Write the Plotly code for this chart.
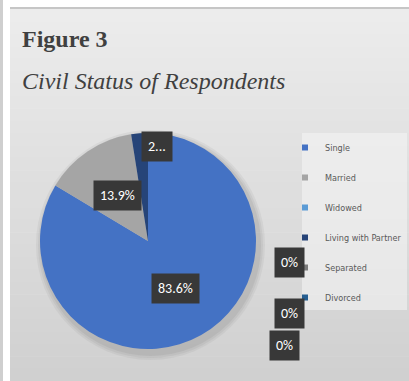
import math
import plotly.graph_objects as go

# ---- data ----
categories = ["Single", "Married", "Widowed", "Living with Partner", "Separated", "Divorced"]
percentages = [83.6, 13.9, 0.0, 2.5, 0.0, 0.0]
colors = ["#4472C4", "#A5A5A5", "#5B9BD5", "#264478", "#7C7C7C", "#255E91"]
title_line1 = "Figure 3"
title_line2 = "Civil Status of Respondents"

W, H = 409, 381
def px(x):
    return x / W
def py(y):
    return 1 - y / H

# pie geometry (pixels)
CX, CY, R = 148, 241, 108

fig = go.Figure()

fig.add_trace(go.Pie(
    labels=categories,
    values=percentages,
    marker=dict(colors=colors, line=dict(width=0)),
    sort=False,
    direction="clockwise",
    rotation=0,
    textinfo="none",
    hoverinfo="label+percent",
    showlegend=False,
    domain=dict(x=[px(CX - R), px(CX + R)], y=[py(CY + R), py(CY - R)]),
))

# legend entries (one group each so spacing can be controlled)
for i, (c, col) in enumerate(zip(categories, colors)):
    fig.add_trace(go.Scatter(
        x=[None], y=[None], mode="markers", name=c,
        marker=dict(symbol="square", size=6, color=col),
        legendgroup=f"g{i}", showlegend=True,
    ))

annotations = []
# title
annotations.append(dict(
    text=f"<b>{title_line1}</b>", x=px(20), y=py(24), xref="paper", yref="paper",
    xanchor="left", yanchor="top", showarrow=False,
    font=dict(family="Liberation Serif", size=24, color="#404040"),
))
annotations.append(dict(
    text=f"<i>{title_line2}</i>", x=px(20), y=py(66), xref="paper", yref="paper",
    xanchor="left", yanchor="top", showarrow=False,
    font=dict(family="Liberation Serif", size=24, color="#404040"),
))

box_font = dict(family="Carlito, Liberation Sans, Arial", size=14, color="white")
total = sum(percentages)
cum = 0.0
zero_spots = [(289, 262), (289, 313), (284, 345)]
zi = 0
for cat, v in zip(categories, percentages):
    if v > 0:
        theta = math.radians(360 * (cum + v / 2) / total)
        if v / total >= 0.05:
            d = 0.51 * R
            xa = "center"
            txt = f"{v:.1f}%"
        else:
            d = 0.88 * R
            xa = "left"
            txt = f"{v:.1f}%"[0] + "..."
        x = CX + d * math.sin(theta)
        y = CY - d * math.cos(theta)
    else:
        x, y = zero_spots[zi]
        zi += 1
        xa = "center"
        txt = "0%"
    annotations.append(dict(
        text=txt, x=px(x), y=py(y), xref="paper", yref="paper",
        xanchor=xa, yanchor="middle", showarrow=False,
        font=box_font, bgcolor="#383838", borderpad=6,
    ))
    cum += v

shapes = [
    # left gray strip
    dict(type="rect", xref="paper", yref="paper", x0=0, x1=px(3), y0=0, y1=1,
         fillcolor="#cfcfcf", line=dict(width=0), layer="below"),
    # panel top border
    dict(type="rect", xref="paper", yref="paper", x0=px(10), x1=1, y0=py(9), y1=py(7),
         fillcolor="#c6c6c6", line=dict(width=0), layer="below"),
]
# vertical gradient for the panel
top_rgb = (236, 236, 236)
bot_rgb = (208, 208, 208)
nb = 30
y_start, y_end = 9, H
for k in range(nb):
    t = k / (nb - 1)
    c = tuple(round(a + (b - a) * t) for a, b in zip(top_rgb, bot_rgb))
    y0 = y_start + (y_end - y_start) * k / nb
    y1 = y_start + (y_end - y_start) * (k + 1) / nb
    shapes.append(dict(type="rect", xref="paper", yref="paper",
                       x0=px(10), x1=1, y0=py(y1 + 0.5), y1=py(y0),
                       fillcolor=f"rgb{c}", line=dict(width=0), layer="below"))
# legend background panel
shapes.append(dict(type="rect", xref="paper", yref="paper",
                   x0=px(302), x1=px(407), y0=py(310), y1=py(133),
                   fillcolor="rgba(246,246,246,0.55)", line=dict(width=0), layer="below"))
# pie shadow (soft, bottom-right)
for grow, op in [(6, 0.10), (4, 0.12), (2, 0.15)]:
    shapes.append(dict(type="circle", xref="paper", yref="paper",
                       x0=px(CX - R + 2 - grow), x1=px(CX + R + 3 + grow),
                       y0=py(CY + R + 5 + grow), y1=py(CY - R + 3 - grow),
                       fillcolor="#808080", opacity=op, line=dict(width=0), layer="below"))

fig.update_layout(
    width=W, height=H,
    margin=dict(l=0, r=0, t=0, b=0, autoexpand=False),
    paper_bgcolor="white",
    plot_bgcolor="rgba(0,0,0,0)",
    xaxis=dict(visible=False),
    yaxis=dict(visible=False),
    annotations=annotations,
    shapes=shapes,
    legend=dict(
        x=px(285), y=py(133), xanchor="left", yanchor="top",
        bgcolor="rgba(0,0,0,0)",
        font=dict(family="DejaVu Sans Condensed, Liberation Sans Narrow, Arial", size=9, color="#595959"),
        tracegroupgap=11, itemwidth=30,
    ),
)

fig.write_html("out.html", config={"displayModeBar": False},
               post_script="document.body.style.margin='0';")
